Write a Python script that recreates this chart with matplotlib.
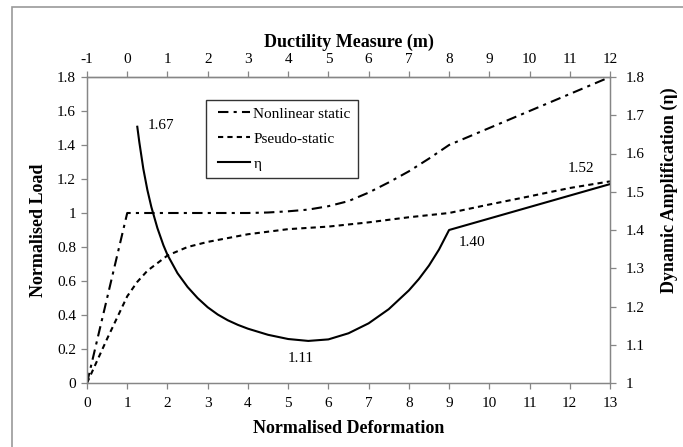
import matplotlib
matplotlib.use("Agg")
import matplotlib.pyplot as plt
from matplotlib.legend_handler import HandlerLine2D
from matplotlib.patches import Rectangle

plt.rcParams["font.family"] = ["Liberation Serif", "DejaVu Serif"]
plt.rcParams["axes.unicode_minus"] = False

# Normalised deformation vs normalised load
nl_x = [0, 1, 2, 3, 4, 4.5, 5, 5.5, 6, 6.5, 7, 7.5, 8, 8.5, 9, 10, 11, 12, 13]
nl_load = [0, 1.0, 1.0, 1.0, 1.0, 1.003, 1.01, 1.02, 1.04, 1.07, 1.12, 1.18, 1.245, 1.32, 1.40,
           1.50, 1.60, 1.70, 1.80]

ps_x = [0, 0.5, 1, 1.25, 1.5, 2, 2.5, 3, 4, 5, 6, 7, 8, 9, 10, 11, 12, 13]
ps_load = [0, 0.26, 0.51, 0.595, 0.66, 0.75, 0.80, 0.83, 0.875, 0.905, 0.92, 0.945, 0.975, 1.0,
           1.05, 1.098, 1.147, 1.186]

eta_x = [1.25, 1.3, 1.4, 1.5, 1.6, 1.75, 1.9, 2, 2.25, 2.5, 2.75, 3, 3.25, 3.5, 3.75, 4, 4.5,
         5, 5.5, 6, 6.5, 7, 7.5, 8, 8.25, 8.5, 8.75, 9, 13]
eta = [1.67, 1.63, 1.56, 1.505, 1.46, 1.405, 1.36, 1.335, 1.287, 1.251, 1.222, 1.198, 1.179,
       1.164, 1.152, 1.142, 1.126, 1.115, 1.11, 1.114, 1.13, 1.156, 1.193, 1.242, 1.272,
       1.307, 1.349, 1.40, 1.52]

# value labels on the eta curve: (x, eta, text)
eta_notes = [(1.5, 1.673, "1.67"), (5.0, 1.065, "1.11"), (9.25, 1.367, "1.40"), (11.94, 1.56, "1.52")]

GREY = "#868686"

fig = plt.figure(figsize=(6.83, 4.47), dpi=100)
ax = fig.add_axes([87 / 683, 1 - 383 / 447, 523 / 683, 306 / 447])
ax2 = ax.twinx()

l1, = ax.plot(nl_x, nl_load, color="black", lw=1.5, dashes=(5, 2.5, 1.5, 2.5), label="Nonlinear static")
l2, = ax.plot(ps_x, ps_load, color="black", lw=1.5, dashes=(2.5, 2), label="Pseudo-static")
l3, = ax2.plot(eta_x, eta, color="black", lw=1.5, label="η")

for x, y, t in eta_notes:
    ax2.text(x, y, t, fontsize=11, ha="left", va="center")

ax.set_xlim(0, 13)
ax.set_ylim(0, 1.8)
ax2.set_ylim(1, 1.8)
ax.set_xticks(range(0, 14))
ax.set_yticks([0, 0.2, 0.4, 0.6, 0.8, 1.0, 1.2, 1.4, 1.6, 1.8])
ax.set_yticklabels(["0", "0.2", "0.4", "0.6", "0.8", "1", "1.2", "1.4", "1.6", "1.8"])
ax2.set_yticks([1, 1.1, 1.2, 1.3, 1.4, 1.5, 1.6, 1.7, 1.8])
ax2.set_yticklabels(["1", "1.1", "1.2", "1.3", "1.4", "1.5", "1.6", "1.7", "1.8"])

top = ax.secondary_xaxis("top", functions=(lambda d: d - 1, lambda m: m + 1))
top.set_xticks(range(-1, 13))

for a in (ax, ax2):
    for s in a.spines.values():
        s.set_color(GREY)
        s.set_linewidth(0.9)
top.spines["top"].set_color(GREY)
top.spines["top"].set_linewidth(0.9)

for a in (ax, ax2, top):
    a.tick_params(direction="out", length=4, width=0.9, color=GREY, labelsize=11, labelcolor="black", pad=4)
ax.tick_params(axis="x", pad=6)
ax2.tick_params(axis="y", pad=7)

ax.set_xlabel("Normalised Deformation", fontsize=13, fontweight="bold")
ax.xaxis.set_label_coords(0.5, -0.121)
ax.set_ylabel("Normalised Load", fontsize=13, fontweight="bold")
ax.yaxis.set_label_coords(-0.0765, 0.5)
ax2.set_ylabel("Dynamic Amplification (η)", fontsize=13, fontweight="bold")
ax2.yaxis.set_label_coords(1.0975, 0.63)
top.set_xlabel("Ductility Measure (m)", fontsize=13, fontweight="bold", labelpad=4)

hmap = {l: HandlerLine2D(xpad=0.35) for l in (l1, l2, l3)}
leg = ax.legend(handles=[l1, l2, l3], handler_map=hmap, loc="upper left",
                bbox_to_anchor=(0.2275, 0.925), borderaxespad=0,
                fontsize=11, frameon=True, fancybox=False, edgecolor="black",
                handlelength=2.45, handletextpad=0.2, labelspacing=0.75, borderpad=0.45)
leg.get_frame().set_linewidth(1.0)

# outer chart frame (only left and top edges visible in the crop)
fig.patches.append(Rectangle((12 / 683, -0.2), 2, 1.2 - 7 / 447, transform=fig.transFigure,
                             fill=False, edgecolor="#9a9a9a", lw=1.2, clip_on=False))

fig.savefig("out.png", dpi=100)
